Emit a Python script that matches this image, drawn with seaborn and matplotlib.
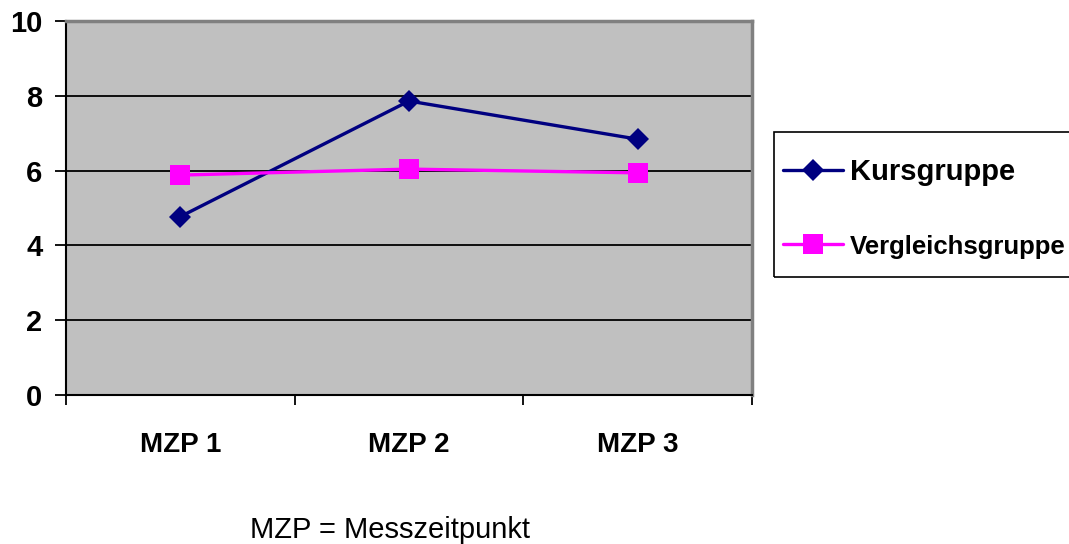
import matplotlib
matplotlib.use("Agg")
import matplotlib.pyplot as plt
import seaborn as sns
import pandas as pd
from matplotlib.lines import Line2D
from matplotlib.patches import Rectangle

# Measurement points and mean scores per group
zeitpunkte = ["MZP 1", "MZP 2", "MZP 3"]
kursgruppe = [4.77, 7.86, 6.84]
vergleichsgruppe = [5.88, 6.04, 5.94]
y_ticks = [0, 2, 4, 6, 8, 10]

df = pd.DataFrame({
    "MZP": zeitpunkte * 2,
    "Wert": kursgruppe + vergleichsgruppe,
    "Gruppe": ["Kursgruppe"] * 3 + ["Vergleichsgruppe"] * 3,
})

sns.set_theme(style="white")
plt.rcParams["font.family"] = ["Liberation Sans", "DejaVu Sans"]
for key in ["text.color", "xtick.color", "ytick.color", "axes.labelcolor"]:
    plt.rcParams[key] = "black"

W, H = 1069, 544
fig = plt.figure(figsize=(W / 100, H / 100), dpi=100)
ax = fig.add_axes([66 / W, 1 - 395 / H, 686 / W, 374 / H])
ax.set_facecolor("#C0C0C0")

farben = {"Kursgruppe": "#000080", "Vergleichsgruppe": "#FF00FF"}
marker = {"Kursgruppe": "D", "Vergleichsgruppe": "s"}
groesse = {"Kursgruppe": 11.5, "Vergleichsgruppe": 15}

for gruppe, teil in df.groupby("Gruppe", sort=False):
    sns.lineplot(data=teil, x="MZP", y="Wert", ax=ax, color=farben[gruppe],
                 marker=marker[gruppe], markersize=groesse[gruppe],
                 markeredgewidth=0, linewidth=2.4, sort=False, zorder=3)

ax.set_xlim(-0.5, 2.5)
ax.set_ylim(0, 10)
ax.set_xlabel("")
ax.set_ylabel("")

# horizontal gridlines
for y in y_ticks[1:-1]:
    ax.axhline(y, color="black", linewidth=1.3, zorder=1)

# category boundary ticks (major) and centred labels (minor)
ax.set_xticks([-0.5, 0.5, 1.5, 2.5])
ax.set_xticklabels([])
ax.set_xticks([0, 1, 2], minor=True)
ax.set_xticklabels(zeitpunkte, minor=True, fontsize=20, fontweight="bold")
ax.tick_params(axis="x", which="major", direction="out", length=7, width=1.3,
               color="black", bottom=True)
ax.tick_params(axis="x", which="minor", length=0, pad=27, bottom=True)

ax.set_yticks(y_ticks)
ax.set_yticklabels([str(v) for v in y_ticks], fontsize=21, fontweight="bold")
ax.tick_params(axis="y", direction="out", length=8, width=1.3, color="black",
               left=True, pad=9)

for side in ["left", "bottom"]:
    ax.spines[side].set_color("black")
    ax.spines[side].set_linewidth(1.5)
for side in ["top", "right"]:
    ax.spines[side].set_color("#808080")
    ax.spines[side].set_linewidth(2.5)
    ax.spines[side].set_visible(True)

# legend: entries without frame, box drawn separately so it runs to the edge
handles = [
    Line2D([], [], color="#000080", marker="D", markersize=11.5,
           markeredgewidth=0, linewidth=2.4),
    Line2D([], [], color="#FF00FF", marker="s", markersize=15,
           markeredgewidth=0, linewidth=2.4),
]
leg = fig.legend(handles, ["Kursgruppe", "Vergleichsgruppe"],
                 loc="upper left", bbox_to_anchor=(783 / W, 1 - 158 / H),
                 bbox_transform=fig.transFigure, frameon=False,
                 fontsize=20, handlelength=2.15, handletextpad=0.25,
                 labelspacing=1.75, borderpad=0, borderaxespad=0)
txt = leg.get_texts()
txt[0].set_fontsize(21)
txt[0].set_fontweight("bold")
txt[1].set_fontsize(18.5)
txt[1].set_fontweight("bold")

fig.patches.append(Rectangle((774 / W, 1 - 277 / H), 310 / W, 145 / H,
                             transform=fig.transFigure, fill=False,
                             edgecolor="black", linewidth=1.2,
                             clip_on=False))

fig.text(390 / W, 1 - 530 / H, "MZP = Messzeitpunkt", ha="center",
         va="center", fontsize=21, color="black")

fig.savefig("out.png", dpi=100, facecolor="white")
